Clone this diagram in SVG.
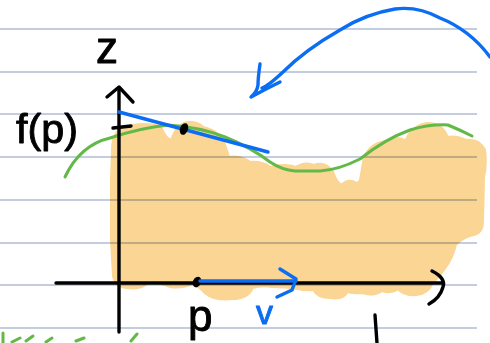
<svg xmlns="http://www.w3.org/2000/svg" width="490" height="343" viewBox="0 0 490 343">
<style>
.rule{stroke:#aebdd6;stroke-width:1.6;fill:none}
.ink{stroke:#000;stroke-width:3.4;fill:none;stroke-linecap:round;stroke-linejoin:round}
.blue{stroke:#0b6df3;stroke-width:3.4;fill:none;stroke-linecap:round;stroke-linejoin:round}
.green{stroke:#62b948;stroke-width:3;fill:none;stroke-linecap:round;stroke-linejoin:round}
.lbl{font-family:"Liberation Sans",Arial,sans-serif;stroke-width:0.9;stroke-linejoin:round}
</style>
<rect width="490" height="343" fill="#fff"/>
<g id="rules">
<line class="rule" x1="0" y1="29" x2="477" y2="29"/>
<line class="rule" x1="0" y1="72" x2="477" y2="72"/>
<line class="rule" x1="0" y1="114" x2="477" y2="114"/>
<line class="rule" x1="0" y1="157" x2="477" y2="157"/>
<line class="rule" x1="0" y1="200" x2="477" y2="200"/>
<line class="rule" x1="0" y1="243" x2="477" y2="243"/>
<line class="rule" x1="0" y1="285" x2="477" y2="285"/>
<line class="rule" x1="0" y1="328" x2="477" y2="328"/>
</g>
<g id="region" style="mix-blend-mode:multiply">
<path fill="#fbd593" stroke="#fbd593" stroke-width="4" stroke-linejoin="round" d="M113,150 Q113,132 124,129 Q140,122 160,127 Q166,141 172,141 Q176,127 184,124 Q195,121 203,128 Q220,132 224,145 Q227,153 228,158 Q240,156 250,163 Q262,162 270,168 Q285,164 296,168 Q305,162 314,166 Q325,162 332,172 Q336,184 342,186 Q348,179 356,184 Q360,184 361,180 L365,157 Q372,143 387,142 Q397,136 406,142 Q412,126 428,124 Q442,124 447,138 Q457,136 466,141 Q478,139 484,150 Q486,165 483,177 L482,222 Q482,232 474,234 Q463,236 455,244 Q452,258 444,268 Q437,278 432,282 Q428,293 416,294 Q404,295 398,288 Q392,293 382,290 Q372,296 362,292 Q352,293 347,291 Q343,299 330,297 Q318,297 314,289 Q306,290 298,288 Q285,286 272,286 Q262,284 252,287 Q248,298 232,298 Q214,300 205,292 Q200,286 192,283 Q182,288 170,286 Q160,281 148,282 Q140,289 128,287 Q116,286 114,276 L112,240 L112,180 Z"/>
</g>
<g id="curve">
<path class="green" d="M65,177 Q80,145 110,138 Q140,128 168,125 Q200,127 225,137 Q252,148 270,162 Q282,170 295,171 L320,171 Q338,170 360,159 Q385,139 410,130 Q430,124 448,125 Q460,130 472,136"/>
</g>
<g id="axes">
<line class="ink" x1="119" y1="89" x2="119" y2="332"/>
<path class="ink" d="M107,97 L119,87 L133,102"/>
<line class="ink" x1="56" y1="283" x2="443" y2="283"/>
<path class="ink" d="M432,271 Q446,278 443,287 Q440,298 429,304"/>
<line class="ink" x1="113" y1="128" x2="131" y2="126"/>
<line class="ink" x1="375" y1="315" x2="377" y2="343"/>
</g>
<g id="tangent">
<line class="blue" x1="119" y1="112" x2="268" y2="152"/>
</g>
<g id="points">
<ellipse cx="184" cy="129" rx="4" ry="6" transform="rotate(20 184 129)" fill="#000"/>
<ellipse cx="197" cy="282" rx="4" ry="5.5" transform="rotate(25 197 282)" fill="#000"/>
</g>
<g id="vector">
<line class="blue" x1="200" y1="281" x2="296" y2="281"/>
<path class="blue" d="M280,269 L296,279 Q294,285 292,290 L277,297"/>
</g>
<g id="bigarrow">
<path class="blue" d="M490,57 Q470,30 440,18 Q418,6 395,9 Q365,14 340,30 Q305,50 283,72 Q268,86 262,88"/>
<path class="blue" d="M260,64 Q258,78 258,85 Q257,92 251,97 L266,89 L280,82"/>
</g>
<g id="labels">
<text class="lbl" x="96" y="63" font-size="44" stroke="#000">z</text>
<text class="lbl" x="16" y="143" font-size="40" stroke="#000" textLength="62" lengthAdjust="spacingAndGlyphs">f(p)</text>
<text class="lbl" x="188" y="331" font-size="44" stroke="#000">p</text>
<text class="lbl" x="256" y="324" font-size="34" fill="#0b6df3" stroke="#0b6df3">v</text>
</g>
<g id="scribble">
<path class="green" d="M3,333 L3,343 M12,342 L20,338 M26,341 L33,336 M46,342 L52,338 M76,341 L84,338 M131,341 L137,334"/>
</g>
</svg>
